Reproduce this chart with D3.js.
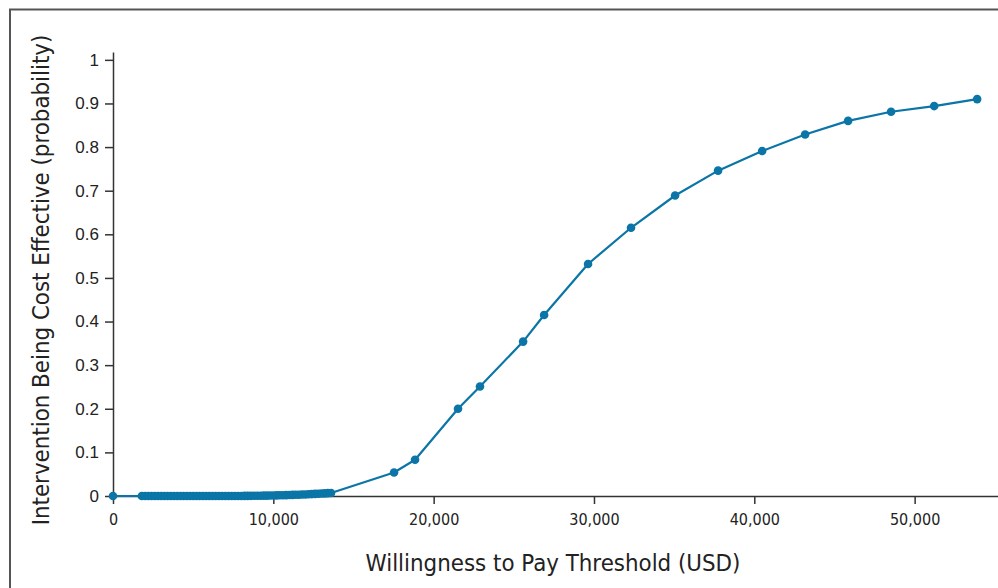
<!DOCTYPE html>
<meta charset="utf-8">
<head>
  <title>Cost-effectiveness acceptability curve</title>
</head>

<style>
  body { margin: 0; background: white; }
  .tick text {
    font-family: "Liberation Sans Narrow", "DejaVu Sans Condensed", sans-serif;
    font-size: 16px;
    fill: #222;
  }
  .ylab .tick text {
    font-family: "Liberation Sans", Helvetica, sans-serif;
    font-size: 17px;
  }
  .title {
    font-family: "Liberation Sans Narrow", "DejaVu Sans Condensed", sans-serif;
    font-size: 23.8px;
    fill: #222;
    text-anchor: middle;
  }
</style>

<body>
<script src="https://d3js.org/d3.v7.min.js"></script>
<div id="chart"></div>
<script>

// willingness to pay thresholds (USD)
var wtp = [0,
  1800, 2000, 2200, 2400, 2600, 2800, 3000, 3200, 3400, 3600,
  3800, 4000, 4200, 4400, 4600, 4800, 5000, 5200, 5400, 5600,
  5800, 6000, 6200, 6400, 6600, 6800, 7000, 7200, 7400, 7600,
  7800, 8000, 8200, 8400, 8600, 8800, 9000, 9200, 9400, 9600,
  9800, 10000, 10200, 10400, 10600, 10800, 11000, 11200, 11400, 11600,
  11800, 12000, 12200, 12400, 12600, 12800, 13000, 13200, 13400, 13600,
  17530, 18840, 21520, 22890, 25580, 26890, 29630, 32310, 35060, 37740,
  40490, 43170, 45850, 48530, 51220, 53900];

// probability of being cost effective
var prob = [0,
  0, 0, 0, 0, 0, 0, 0, 0, 0, 0,
  0, 0, 0, 0, 0, 0, 0, 0, 0, 0,
  0, 0, 0, 0, 0, 0, 0, 0, 0, 0,
  0, 0, 0.0002, 0.0003, 0.0004, 0.0005, 0.0006, 0.0007, 0.0008, 0.0009,
  0.001, 0.0012, 0.0014, 0.0016, 0.0018, 0.002, 0.0022, 0.0025, 0.0028, 0.003,
  0.0033, 0.0036, 0.004, 0.0044, 0.0048, 0.0052, 0.0056, 0.006, 0.0065, 0.007,
  0.054, 0.083, 0.2, 0.251, 0.354, 0.415, 0.532, 0.615, 0.689, 0.746,
  0.791, 0.829, 0.860, 0.881, 0.894, 0.910];

var xTicks = [0, 10000, 20000, 30000, 40000, 50000];
var yTicks = [0, 0.1, 0.2, 0.3, 0.4, 0.5, 0.6, 0.7, 0.8, 0.9, 1];

var data = wtp.map(function(d, i) { return {x: d, y: prob[i]}; });

var width = 998, height = 588;
var color = "#0a75a6";

var svg = d3.select("#chart")
  .append("svg")
  .attr("width", width)
  .attr("height", height);

// outer frame
svg.append("rect")
  .attr("x", 10)
  .attr("y", 9.5)
  .attr("width", 1000)
  .attr("height", 600)
  .attr("fill", "none")
  .attr("stroke", "#555")
  .attr("stroke-width", 2);

var x = d3.scaleLinear().domain([0, 55200]).range([113, 998]);
var y = d3.scaleLinear().domain([0, 1.018]).range([496, 52]);

svg.append("g")
  .attr("transform", "translate(0,496)")
  .call(d3.axisBottom(x)
    .tickValues(xTicks)
    .tickSize(8)
    .tickSizeOuter(0)
    .tickPadding(10)
    .tickFormat(d3.format(",")));

svg.append("g")
  .attr("class", "ylab")
  .attr("transform", "translate(113,0)")
  .call(d3.axisLeft(y)
    .tickValues(yTicks)
    .tickSize(8)
    .tickSizeOuter(0)
    .tickPadding(6)
    .tickFormat(d3.format("~g")));

svg.selectAll(".domain, .tick line")
  .attr("stroke", "#333")
  .attr("stroke-width", 1.5);

var line = d3.line()
  .x(function(d) { return x(d.x); })
  .y(function(d) { return y(d.y); });

svg.append("path")
  .datum(data)
  .attr("fill", "none")
  .attr("stroke", color)
  .attr("stroke-width", 2.2)
  .attr("stroke-linejoin", "round")
  .attr("d", line);

svg.selectAll("circle.pt")
  .data(data)
  .enter()
  .append("circle")
  .attr("class", "pt")
  .attr("cx", function(d) { return x(d.x); })
  .attr("cy", function(d) { return y(d.y); })
  .attr("r", 4.3)
  .attr("fill", color);

svg.append("text")
  .attr("class", "title")
  .attr("x", 553)
  .attr("y", 571)
  .text("Willingness to Pay Threshold (USD)");

svg.append("text")
  .attr("class", "title")
  .attr("transform", "translate(49,280) rotate(-90)")
  .text("Intervention Being Cost Effective (probability)");

</script>
</body>
</html>
